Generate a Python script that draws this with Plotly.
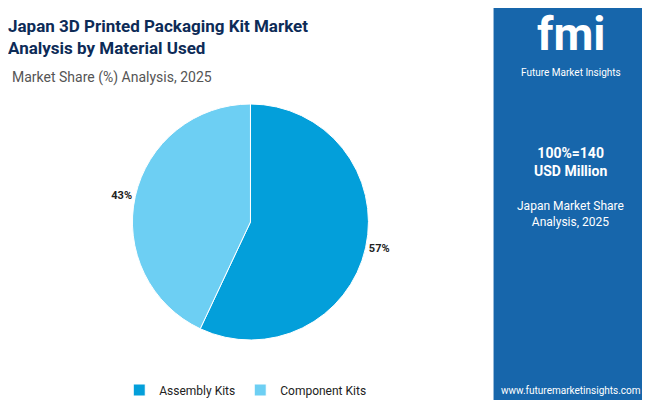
import plotly.graph_objects as go

labels = ["Assembly Kits", "Component Kits"]
values = [57, 43]
colors = ["#039fda", "#6dcff3"]

fig = go.Figure(go.Pie(
    labels=labels, values=values, sort=False, direction="clockwise", rotation=0,
    marker=dict(colors=colors, line=dict(color="white", width=1)),
    texttemplate="<b>%{percent:.0%}</b>", textposition="outside",
    textfont=dict(family="Roboto", size=11, color="#222222"),
    domain=dict(x=[0.068, 0.678], y=[0.17, 0.76]),
))

shapes = [
    dict(type="rect", xref="paper", yref="paper", x0=0.747, x1=1.02, y0=0, y1=1,
         fillcolor="#1766ab", line_width=0, layer="below"),
    dict(type="rect", xref="paper", yref="paper", x0=-0.02, x1=0.24, y0=0, y1=0.01,
         fillcolor="#8dc63f", line_width=0),
    dict(type="rect", xref="paper", yref="paper", x0=0.24, x1=0.493, y0=0, y1=0.01,
         fillcolor="#e8562a", line_width=0),
    dict(type="rect", xref="paper", yref="paper", x0=0.493, x1=0.747, y0=0, y1=0.01,
         fillcolor="#8e2a8b", line_width=0),
]

def note(text, x, y, size, color, xanchor="center", yanchor="middle", align="center"):
    return dict(text=text, x=x, y=y, xref="paper", yref="paper", xanchor=xanchor,
                yanchor=yanchor, align=align, showarrow=False,
                font=dict(family="Roboto", size=size, color=color))

ann = [
    note("<b>Japan 3D Printed Packaging Kit Market<br>Analysis by Material Used</b>",
         -0.003, 0.985, 17, "#0d2b57", "left", "top", "left"),
    note("Market Share (%) Analysis, 2025", 0.003, 0.852, 14, "#555555", "left", "top"),
    note("<b>fmi</b>", 0.866, 0.935, 46, "white"),
    note("Future Market Insights", 0.866, 0.84, 10, "white"),
    note("<b>100%=140<br>USD Million</b>", 0.866, 0.615, 14, "white"),
    note("Japan Market Share<br>Analysis, 2025", 0.866, 0.485, 12, "white"),
    note("www.futuremarketinsights.com", 0.866, 0.045, 10, "white"),
]

fig.update_layout(
    width=650, height=400, autosize=False,
    margin=dict(l=0, r=0, t=0, b=0, autoexpand=False),
    paper_bgcolor="white", plot_bgcolor="white",
    shapes=shapes, annotations=ann,
    legend=dict(orientation="h", x=0.365, xanchor="center", y=0.045, yanchor="middle",
                font=dict(family="Roboto", size=12, color="#222222")),
)

fig.write_html("out.html")
